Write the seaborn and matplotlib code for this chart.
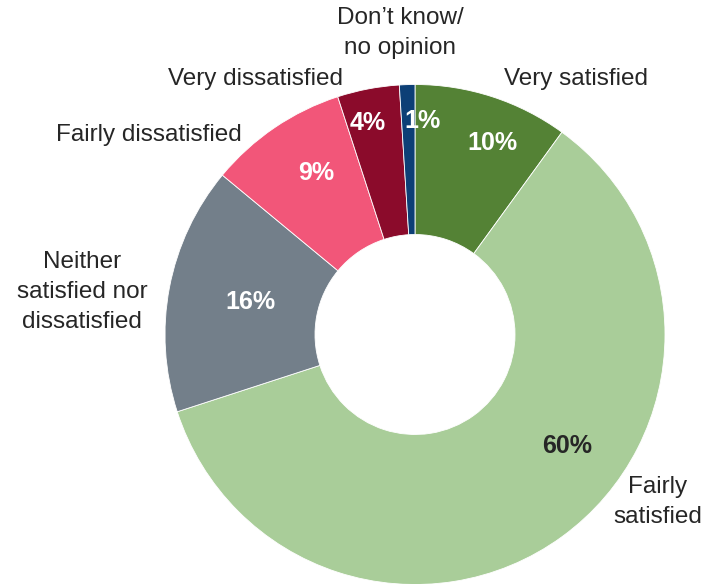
import matplotlib
matplotlib.use("Agg")
import matplotlib.pyplot as plt
import seaborn as sns

sns.set_theme(style="white")
plt.rcParams["font.family"] = ["Liberation Sans", "DejaVu Sans"]

# Satisfaction survey results (percent), clockwise from 12 o'clock
categories = ["Very satisfied", "Fairly\nsatisfied", "Neither\nsatisfied nor\ndissatisfied",
              "Fairly dissatisfied", "Very dissatisfied", "Don\u2019t know/\nno opinion"]
values = [10, 60, 16, 9, 4, 1]
colors = ["#548235", "#A9CD99", "#737F8A", "#F25679", "#8B0B2B", "#0D3F76"]
value_colors = ["white", "#262626", "white", "white", "white", "white"]

# Label placement in axes data units (pie radius = 1)
value_pos = [(0.311, 0.765), (0.610, -0.446), (-0.657, 0.131),
             (-0.394, 0.645), (-0.191, 0.845), (0.028, 0.853)]
name_pos = [(0.355, 1.024, "left"), (0.972, -0.669, "center"), (-1.331, 0.171, "center"),
            (-1.064, 0.797, "center"), (-0.637, 1.024, "center"), (-0.060, 1.207, "center")]

W, H = 704, 584
cx, cy, R = 415, 334.5, 250
fig = plt.figure(figsize=(W / 100, H / 100), dpi=100)
ax = fig.add_axes([(cx - R) / W, (H - cy - R) / H, 2 * R / W, 2 * R / H])

ax.pie(values, colors=colors, startangle=90, counterclock=False, radius=1,
       wedgeprops=dict(width=0.6, edgecolor="white", linewidth=0.6))
ax.set_xlim(-1, 1)
ax.set_ylim(-1, 1)
ax.set_aspect("equal")
ax.axis("off")

for v, (x, y), c in zip(values, value_pos, value_colors):
    ax.text(x, y, f"{v}%", ha="center", va="center", fontsize=18,
            fontweight="bold", color=c, clip_on=False)

for name, (x, y, ha) in zip(categories, name_pos):
    ax.text(x, y, name, ha=ha, va="center", fontsize=17.5, color="#262626",
            linespacing=1.48, clip_on=False)

fig.savefig("out.png", dpi=100)
